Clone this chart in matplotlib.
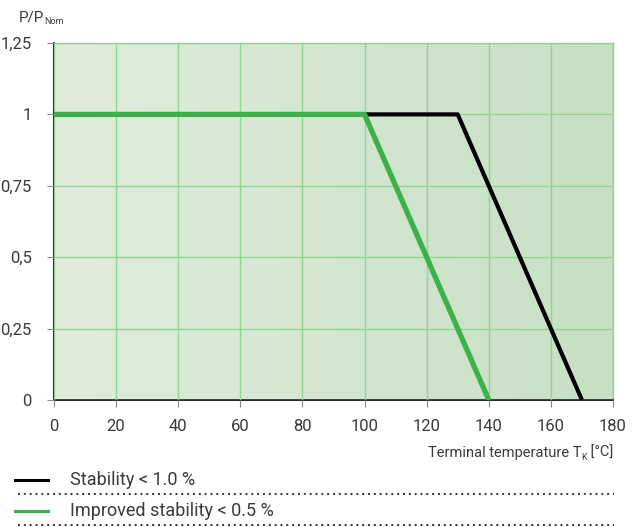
import matplotlib
matplotlib.use("Agg")
import matplotlib.pyplot as plt
import numpy as np
from matplotlib.colors import LinearSegmentedColormap

plt.rcParams['font.family'] = ['Roboto', 'DejaVu Sans']

# data
stab_x = [0, 130, 170]
stab_y = [1, 1, 0]
impr_x = [0, 100, 140]
impr_y = [1, 1, 0]
xticks = [0, 20, 40, 60, 80, 100, 120, 140, 160, 180]
yticks = [0, 0.25, 0.5, 0.75, 1, 1.25]
ytick_labels = ['0', '0,25', '0,5', '0,75', '1', '1,25']
legend_labels = ['Stability < 1.0 %', 'Improved stability < 0.5 %']

txt = '#3a3a3a'
W, H = 638, 527
fig = plt.figure(figsize=(6.38, 5.27), dpi=100)
ax = fig.add_axes([54/W, 127/H, 559/W, 357/H])

cmap = LinearSegmentedColormap.from_list('g', ['#e1ecdd', '#c6e0c3'])
grad = np.linspace(0, 1, 256).reshape(1, -1)
ax.imshow(grad, extent=[0, 180, 0, 1.25], aspect='auto', cmap=cmap, zorder=0)

ax.set_xlim(0, 180)
ax.set_ylim(0, 1.25)
ax.set_xticks(xticks)
ax.set_yticks(yticks)
ax.set_yticklabels(ytick_labels)
ax.grid(True, color='#93d493', lw=1.0, zorder=1)
ax.set_axisbelow(False)

ax.plot(stab_x, stab_y, color='#000000', lw=3.0, zorder=3, solid_capstyle='butt')
ax.plot(impr_x, impr_y, color='#3cb04a', lw=3.8, zorder=4, solid_capstyle='butt')

for s in ['top', 'right']:
    ax.spines[s].set_color('#93d493')
    ax.spines[s].set_linewidth(1.0)
for s in ['left', 'bottom']:
    ax.spines[s].set_color('#000000')
    ax.spines[s].set_linewidth(1.2)
ax.tick_params(direction='out', length=5, color='#888888', labelsize=12, labelcolor=txt, pad=9)
ax.tick_params(axis='y', pad=11)

fig.canvas.draw()
r = fig.canvas.get_renderer()

def chain(parts, x_start=None, x_end=None, y=0):
    """parts: list of (text, size, dy)"""
    objs = [fig.text(0, 0, s, fontsize=fs, color=txt, va='center', ha='left') for s, fs, dy in parts]
    widths = [o.get_window_extent(r).width for o in objs]
    if x_start is None:
        x_start = x_end - sum(widths)
    x = x_start
    for o, w, (s, fs, dy) in zip(objs, widths, parts):
        o.set_position((x/W, (H - y - dy)/H))
        x += w

chain([('P/P', 11, 0), ('Nom', 6.5, 4)], x_start=19, y=17)
chain([('Terminal temperature T', 10.5, 0), ('K', 6.5, 4), (' [°C]', 10.5, 0)], x_end=613, y=453)

# legend
colors = ['#000000', '#3cb04a']
ys = [480, 511]
for lab, c, yy in zip(legend_labels, colors, ys):
    fy = 1 - yy/H
    fig.add_artist(plt.Line2D([15/W, 48/W], [fy, fy], color=c, lw=2.2, transform=fig.transFigure))
    fig.text(70/W, fy, lab, fontsize=13, color=txt, va='center', ha='left')
    dy = 1 - (yy + 14)/H
    fig.add_artist(plt.Line2D([18/W, 614/W], [dy, dy], color='#333333', lw=1.4, ls=(0, (1, 2)),
                              transform=fig.transFigure))

fig.savefig('out.png', dpi=100)
